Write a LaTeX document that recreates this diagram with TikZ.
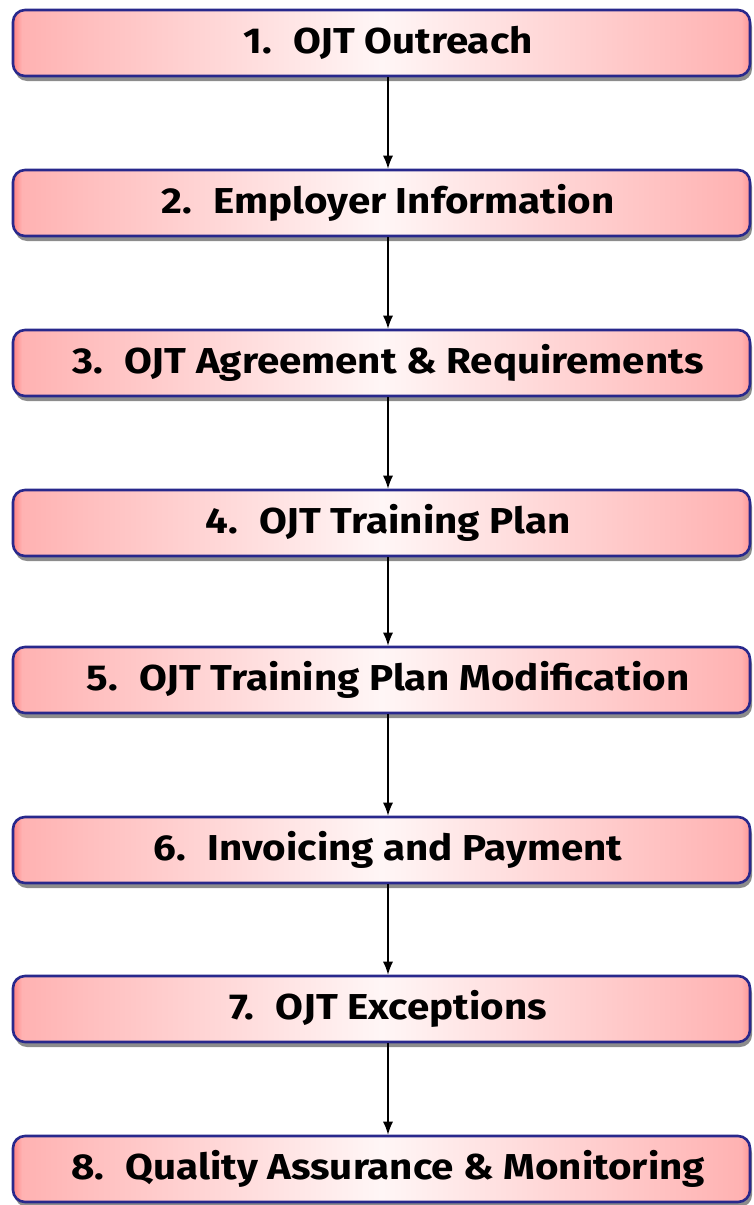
\documentclass[tikz,border=0pt]{standalone}
\usepackage{fontspec}
\setmainfont{Fira Sans}[FakeStretch=1.12]
\usetikzlibrary{shadows,calc,arrows.meta}
\definecolor{boxedge}{RGB}{40,40,140}
\definecolor{pkA}{RGB}{255,128,128}
\definecolor{pkB}{RGB}{255,178,178}
\definecolor{pkC}{RGB}{255,246,246}
\definecolor{pkD}{RGB}{255,150,150}
\pgfdeclarehorizontalshading{stepfill}{100bp}{%
  color(0bp)=(pkA); color(25bp)=(pkA); color(25.6bp)=(pkB);
  color(50bp)=(pkC); color(74.4bp)=(pkB); color(75bp)=(pkD); color(100bp)=(pkD)}
\tikzset{
  stepbox/.style={draw=boxedge, line width=2.6pt, rounded corners=12pt,
    minimum width=737pt, minimum height=66pt, inner sep=0pt,
    shading=stepfill,
    drop shadow={shadow xshift=2pt, shadow yshift=-5pt, fill=black, opacity=0.45}},
  steplabel/.style={font=\bfseries\fontsize{36}{40}\selectfont, inner sep=0pt,
    text=black, anchor=base},
  flow/.style={-{Latex[length=13pt,width=10pt]}, line width=1.3pt, black}
}
\newcommand{\stepno}[1]{#1.\hspace{0.6em}}
\begin{document}
\begin{tikzpicture}[x=1pt, y=-1pt]
  \useasboundingbox (0,0) rectangle (754,1205);
  % boxes, placed by their top edges
  \foreach \n/\t in {1/9, 2/169, 3/329, 4/489, 5/646, 6/816, 7/975, 8/1135} {
    \node[stepbox] (b\n) at (381.5, \t+34) {};
  }
  % labels, placed by their baselines
  \node[steplabel] (l1) at (388, 53) {\stepno{1}OJT Outreach};
  \node[steplabel] (l2) at (388, 213) {\stepno{2}Employer Information};
  \node[steplabel] (l3) at (388, 373) {\stepno{3}OJT Agreement \& Requirements};
  \node[steplabel] (l4) at (388, 533) {\stepno{4}OJT Training Plan};
  \node[steplabel] (l5) at (388, 690) {\stepno{5}OJT Training Plan Modification};
  \node[steplabel] (l6) at (388, 860) {\stepno{6}Invoicing and Payment};
  \node[steplabel] (l7) at (388, 1019) {\stepno{7}OJT Exceptions};
  \node[steplabel] (l8) at (388, 1179) {\stepno{8}Quality Assurance \& Monitoring};
  % connectors
  \foreach \a/\b in {1/2, 2/3, 3/4, 4/5, 5/6, 6/7, 7/8} {
    \draw[flow] (b\a.south -| l\a) -- (b\b.north -| l\a);
  }
\end{tikzpicture}
\end{document}
